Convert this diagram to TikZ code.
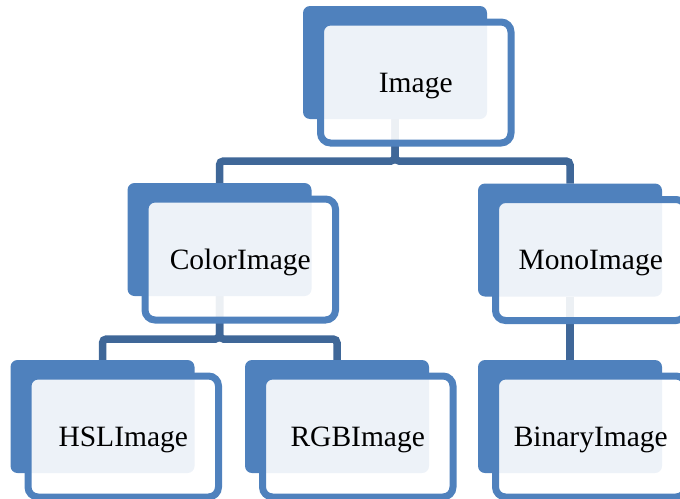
\documentclass[tikz,border=0pt]{standalone}
\usepackage{fontspec}
\setmainfont{Liberation Serif}
\usetikzlibrary{backgrounds}
\definecolor{accent}{RGB}{79,129,189}
\definecolor{connc}{RGB}{63,103,152}
\tikzset{
  backbox/.style={rectangle, rounded corners=7pt, fill=accent, draw=none, minimum width=184pt, minimum height=113pt, inner sep=0pt, outer sep=0pt},
  frontbox/.style={rectangle, rounded corners=10pt, draw=accent, line width=7pt, fill=white, fill opacity=0.9, minimum width=190.5pt, minimum height=121pt, inner sep=0pt, outer sep=0pt},
  lbl/.style={anchor=base, inner sep=0pt, font=\fontsize{29.5}{32}\selectfont, text=black},
  conn/.style={draw=connc, line width=7.5pt, rounded corners=4pt}
}
\begin{document}
\begin{tikzpicture}[x=1pt,y=-1pt]
\useasboundingbox (0,0) rectangle (680,498);
\clip (0,0) rectangle (680,498);
% back boxes
\node[backbox] (bI) at (395,62.5) {};
\node[backbox] (bC) at (219.5,239.5) {};
\node[backbox] (bM) at (570,240) {};
\node[backbox] (bH) at (102.5,416.5) {};
\node[backbox] (bR) at (337,416.5) {};
\node[backbox] (bB) at (570,416.5) {};
% front boxes
\node[frontbox] (fI) at ([shift={(20.75,20)}]bI.center) {};
\node[frontbox] (fC) at ([shift={(20.75,20)}]bC.center) {};
\node[frontbox] (fM) at ([shift={(20.75,20)}]bM.center) {};
\node[frontbox] (fH) at ([shift={(20.75,20)}]bH.center) {};
\node[frontbox] (fR) at ([shift={(20.75,20)}]bR.center) {};
\node[frontbox] (fB) at ([shift={(20.75,20)}]bB.center) {};
% labels
\node[lbl] (tI) at ([shift={(0,9.5)}]fI.center) {Image};
\node[lbl] (tC) at ([shift={(0,9.5)}]fC.center) {ColorImage};
\node[lbl] (tM) at ([shift={(0,9.5)}]fM.center) {MonoImage};
\node[lbl] (tH) at ([shift={(0,9.5)}]fH.center) {HSLImage};
\node[lbl] (tR) at ([shift={(0,9.5)}]fR.center) {RGBImage};
\node[lbl] (tB) at ([shift={(0,9.5)}]fB.center) {BinaryImage};
% connectors (behind)
\begin{scope}[on background layer]
\draw[conn] (bI.south) -- ++(0,42) -| (bC.north);
\draw[conn] (bI.south) -- ++(0,42) -| (bM.north);
\draw[conn] (bC.south) -- ++(0,43) -| (bH.north);
\draw[conn] (bC.south) -- ++(0,43) -| (bR.north);
\draw[conn] (bM.south) -- (bB.north);
\end{scope}
\end{tikzpicture}
\end{document}
